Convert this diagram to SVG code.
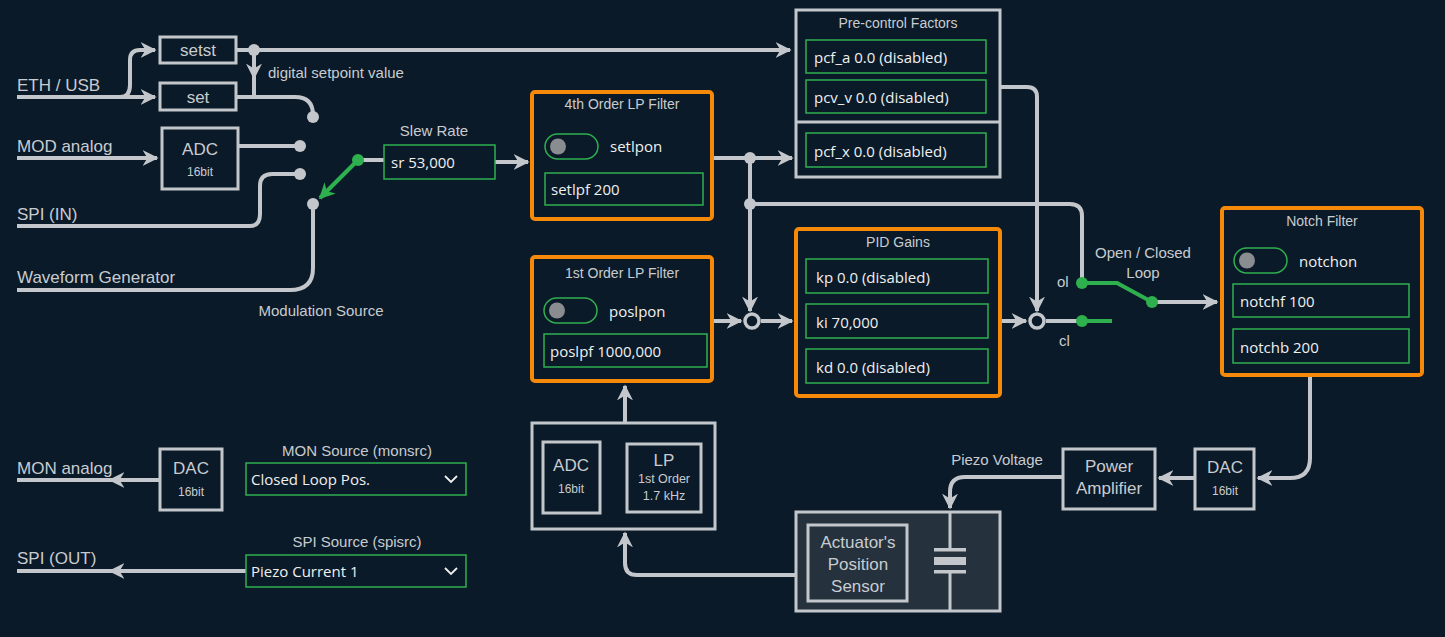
<svg xmlns="http://www.w3.org/2000/svg" width="1445" height="637" viewBox="0 0 1445 637">
<defs>
<marker id="ah" viewBox="0 0 10 10" refX="9" refY="5" markerWidth="4" markerHeight="4" orient="auto-start-reverse" markerUnits="strokeWidth"><path d="M0,0 L10,5 L0,10 L3,5 Z" fill="#c3c7cb"/></marker>
<marker id="ahg" viewBox="0 0 10 10" refX="9" refY="5" markerWidth="4" markerHeight="4" orient="auto" markerUnits="strokeWidth"><path d="M0,0 L10,5 L0,10 L3,5 Z" fill="#2fb04f"/></marker>
<style>
.w{fill:none;stroke:#c3c7cb;stroke-width:4}
.g{fill:none;stroke:#2fb04f;stroke-width:4}
.bx{fill:#0b1a28;stroke:#c3c7cb;stroke-width:3}
.or{fill:#0b1a28;stroke:#f7890a;stroke-width:4}
.fld{fill:#0b1a28;stroke:#2fb04f;stroke-width:1.5}
.tg{fill:#0b1a28;stroke:#2fb04f;stroke-width:1.5}
.dot{fill:#c3c7cb}
.gd{fill:#2fb04f}
text{font-family:"Liberation Sans",Arial,sans-serif;fill:#c8ccd0}
.lb{font-size:17px}
.sm{font-size:15px}
.tt{font-size:14px;text-anchor:middle}
.v{font-family:"Open Sans","Noto Sans",sans-serif;font-size:15px;fill:#f0f0f0}
.c{text-anchor:middle}
</style>
</defs>
<rect width="1445" height="637" fill="#0b1a28"/>
<g id="connectors">
<path class="w" d="M17,97 H155" marker-end="url(#ah)"/>
<path class="w" d="M120,97 Q130,97 130,85 V60 Q130,50 140,50 H155" marker-end="url(#ah)"/>
<path class="w" d="M236,50 H790" marker-end="url(#ah)"/>
<path class="w" d="M254,50 V78" marker-end="url(#ah)"/>
<path class="w" d="M254,78 V97"/>
<path class="w" d="M236,97 H295 Q313,97 313,115"/>
<path class="w" d="M17,158 H157" marker-end="url(#ah)"/>
<path class="w" d="M238,146 H300"/>
<path class="w" d="M17,226 H250 Q260,226 260,214 V186 Q260,174 272,174 H300"/>
<path class="w" d="M17,290 H290 Q313,290 313,268 V205"/>
<path class="w" d="M358,160 H384"/>
<path class="g" d="M358,160 L320,198" marker-end="url(#ahg)"/>
<path class="w" d="M495,162 H528" marker-end="url(#ah)"/>
<path class="w" d="M712,158 H792" marker-end="url(#ah)"/>
<path class="w" d="M750,158 V311" marker-end="url(#ah)"/>
<path class="w" d="M750,204 H1070 Q1082,204 1082,216 V283"/>
<path class="w" d="M1000,87 H1027 Q1037,87 1037,97 V311" marker-end="url(#ah)"/>
<path class="w" d="M712,321 H741" marker-end="url(#ah)"/>
<path class="w" d="M761,321 H792" marker-end="url(#ah)"/>
<path class="w" d="M1000,321 H1026" marker-end="url(#ah)"/>
<path class="w" d="M1046,321 H1082"/>
<path class="g" d="M1082,321 H1112"/>
<path class="g" d="M1082,283 H1117 L1152,302"/>
<path class="w" d="M1152,302 H1217" marker-end="url(#ah)"/>
<path class="w" d="M1310,375 V458 Q1310,478 1290,478 H1258" marker-end="url(#ah)"/>
<path class="w" d="M1195,478 H1159" marker-end="url(#ah)"/>
<path class="w" d="M1063,477 H965 Q950,477 950,492 V508" marker-end="url(#ah)"/>
<path class="w" d="M796,575 H637 Q625,575 625,563 V533" marker-end="url(#ah)"/>
<path class="w" d="M625,423 V386" marker-end="url(#ah)"/>
<path class="w" d="M627,473 H606" marker-end="url(#ah)"/>
<path class="w" d="M160,480 H110" marker-end="url(#ah)"/>
<path class="w" d="M17,480 H110"/>
<path class="w" d="M246,571 H110" marker-end="url(#ah)"/>
<path class="w" d="M17,571 H110"/>
<circle class="dot" cx="254" cy="50" r="6"/>
<circle class="dot" cx="313" cy="117" r="6"/>
<circle class="dot" cx="300" cy="146" r="6"/>
<circle class="dot" cx="300" cy="174" r="6"/>
<circle class="dot" cx="313" cy="204" r="6"/>
<circle class="gd" cx="358" cy="160" r="6"/>
<circle class="dot" cx="750" cy="158" r="6"/>
<circle class="dot" cx="750" cy="204" r="6"/>
<circle cx="752" cy="321" r="7" fill="#0b1a28" stroke="#c3c7cb" stroke-width="3.5"/>
<circle cx="1037" cy="321" r="7" fill="#0b1a28" stroke="#c3c7cb" stroke-width="3.5"/>
<circle class="gd" cx="1082" cy="283" r="6"/>
<circle class="gd" cx="1082" cy="321" r="6"/>
<circle class="gd" cx="1152" cy="302" r="6"/>
</g>
<g id="labels">
<text class="lb" x="17" y="91">ETH / USB</text>
<text class="lb" x="17" y="152">MOD analog</text>
<text class="lb" x="17" y="220">SPI (IN)</text>
<text class="lb" x="17" y="283">Waveform Generator</text>
<text class="sm" x="268" y="78">digital setpoint value</text>
<text class="sm c" x="434" y="136">Slew Rate</text>
<text class="sm c" x="321" y="316">Modulation Source</text>
<text class="sm" x="1057" y="287">ol</text>
<text class="sm" x="1059" y="346">cl</text>
<text class="sm c" x="1143" y="258">Open / Closed</text>
<text class="sm c" x="1143" y="278">Loop</text>
<text class="sm c" x="997" y="465">Piezo Voltage</text>
<text class="lb" x="17" y="474">MON analog</text>
<text class="lb" x="17" y="564">SPI (OUT)</text>
<text class="sm c" x="357" y="456">MON Source (monsrc)</text>
<text class="sm c" x="357" y="547">SPI Source (spisrc)</text>
</g>
<g id="setst"><rect class="bx" x="160" y="37" width="76" height="26"/><text class="lb c" x="198" y="56">setst</text></g>
<g id="set"><rect class="bx" x="160" y="83" width="76" height="27"/><text class="lb c" x="198" y="103">set</text></g>
<g id="adc-in"><rect class="bx" x="162" y="128" width="76" height="61"/><text class="lb c" x="200" y="155">ADC</text><text class="c" font-size="12" x="200" y="176">16bit</text></g>
<g id="slew"><rect class="fld" x="384" y="145" width="111" height="34"/><text class="v" x="391" y="168">sr   53,000</text></g>
<g id="lp4"><rect class="or" x="532" y="92" width="180" height="127" rx="3"/><text class="tt" x="622" y="109">4th Order LP Filter</text>
<rect class="tg" x="545" y="134" width="53" height="25" rx="12.5"/><circle cx="558" cy="146.5" r="8" fill="#8a8d90"/><text class="v" x="610" y="152">setlpon</text>
<rect class="fld" x="545" y="173" width="158" height="32"/><text class="v" x="551" y="195">setlpf   200</text></g>
<g id="lp1"><rect class="or" x="532" y="257" width="180" height="124" rx="3"/><text class="tt" x="622" y="278">1st Order LP Filter</text>
<rect class="tg" x="544" y="298" width="53" height="25" rx="12.5"/><circle cx="557" cy="310.5" r="8" fill="#8a8d90"/><text class="v" x="609" y="317">poslpon</text>
<rect class="fld" x="544" y="334" width="163" height="33"/><text class="v" x="550" y="357">poslpf   1000,000</text></g>
<g id="precontrol"><rect class="bx" x="796" y="10" width="204" height="167"/><path d="M796,122 H1000" stroke="#c3c7cb" stroke-width="3"/><text class="tt" x="898" y="28">Pre-control Factors</text>
<rect class="fld" x="806" y="40" width="180" height="33"/><text class="v" x="814" y="63">pcf_a   0.0 (disabled)</text>
<rect class="fld" x="806" y="80" width="180" height="33"/><text class="v" x="814" y="103">pcv_v   0.0 (disabled)</text>
<rect class="fld" x="806" y="133" width="180" height="34"/><text class="v" x="814" y="157">pcf_x   0.0 (disabled)</text></g>
<g id="pid"><rect class="or" x="796" y="229" width="204" height="167" rx="3"/><text class="tt" x="898" y="247">PID Gains</text>
<rect class="fld" x="806" y="259" width="182" height="34"/><text class="v" x="816" y="283">kp   0.0 (disabled)</text>
<rect class="fld" x="806" y="304" width="182" height="34"/><text class="v" x="816" y="328">ki   70,000</text>
<rect class="fld" x="806" y="349" width="182" height="34"/><text class="v" x="816" y="373">kd  0.0 (disabled)</text></g>
<g id="notch"><rect class="or" x="1222" y="208" width="200" height="167" rx="3"/><text class="tt" x="1322" y="226">Notch Filter</text>
<rect class="tg" x="1234" y="248" width="53" height="25" rx="12.5"/><circle cx="1247" cy="260.5" r="8" fill="#8a8d90"/><text class="v" x="1299" y="267">notchon</text>
<rect class="fld" x="1233" y="284" width="176" height="33"/><text class="v" x="1240" y="307">notchf   100</text>
<rect class="fld" x="1233" y="329" width="176" height="34"/><text class="v" x="1240" y="353">notchb   200</text></g>
<g id="dac-out"><rect class="bx" x="1195" y="449" width="59" height="60"/><text class="lb c" x="1225" y="473">DAC</text><text class="c" font-size="12" x="1225" y="495">16bit</text></g>
<g id="amp"><rect class="bx" x="1063" y="449" width="92" height="60"/><text class="lb c" x="1109" y="472">Power</text><text class="lb c" x="1109" y="494">Amplifier</text></g>
<g id="actuator"><rect x="796" y="512" width="204" height="99" fill="#25313d" stroke="#c3c7cb" stroke-width="3"/>
<rect x="808" y="525" width="99" height="76" fill="#25313d" stroke="#c3c7cb" stroke-width="3"/>
<text class="lb c" x="858" y="548">Actuator's</text><text class="lb c" x="858" y="570">Position</text><text class="lb c" x="858" y="592">Sensor</text>
<path d="M950,512 V549 M950,572 V611" stroke="#c3c7cb" stroke-width="3"/>
<rect x="934" y="548" width="32" height="3.5" fill="#c3c7cb"/><rect x="934" y="557" width="32" height="8" fill="#c3c7cb"/><rect x="934" y="570" width="32" height="3.5" fill="#c3c7cb"/></g>
<g id="sensor"><rect class="bx" x="532" y="423" width="183" height="106"/>
<rect class="bx" x="543" y="442" width="57" height="71"/><text class="lb c" x="571" y="471">ADC</text><text class="c" font-size="12" x="571" y="493">16bit</text>
<rect class="bx" x="627" y="444" width="74" height="68"/><text class="lb c" x="664" y="466">LP</text><text class="c" font-size="12.5" x="664" y="483">1st Order</text><text class="c" font-size="12.5" x="664" y="500">1.7 kHz</text></g>
<g id="dac-mon"><rect class="bx" x="160" y="449" width="62" height="61"/><text class="lb c" x="191" y="474">DAC</text><text class="c" font-size="12" x="191" y="496">16bit</text></g>
<g id="monsrc"><rect class="fld" x="246" y="463" width="220" height="32"/><text class="v" x="251" y="485">Closed Loop Pos.</text><path d="M445,476 L451,482 L457,476" fill="none" stroke="#f0f0f0" stroke-width="1.8"/></g>
<g id="spisrc"><rect class="fld" x="246" y="555" width="220" height="32"/><text class="v" x="251" y="577">Piezo Current 1</text><path d="M445,568 L451,574 L457,568" fill="none" stroke="#f0f0f0" stroke-width="1.8"/></g>
</svg>
